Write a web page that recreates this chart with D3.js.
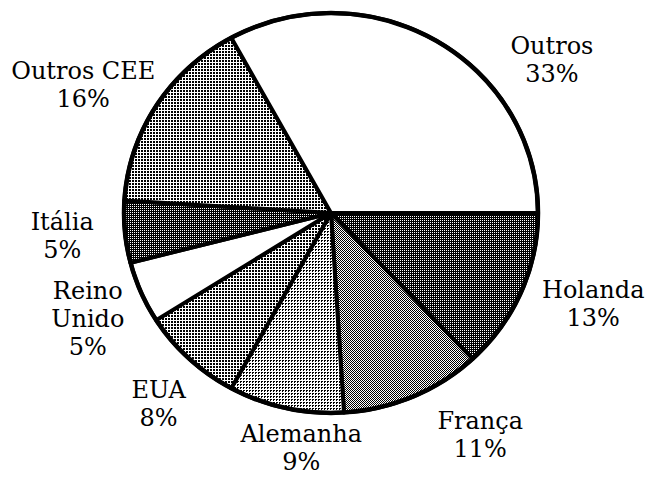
<!DOCTYPE html>
<html>
<head>
<meta charset="utf-8">
<script src="https://cdn.jsdelivr.net/npm/d3@7"></script>
<style>
  html, body { margin: 0; padding: 0; background: #fff; }
  svg { display: block; }
  text { font-family: "DejaVu Serif", serif; font-size: 24px; fill: #000; }
</style>
</head>
<body>
<script>
// Data (clockwise from 3 o'clock)
const categories = ["Holanda", "França", "Alemanha", "EUA", "Reino Unido", "Itália", "Outros CEE", "Outros"];
const shares = [13, 11, 9, 8, 5, 5, 16, 33];
const labelLines = [["Holanda"], ["França"], ["Alemanha"], ["EUA"], ["Reino", "Unido"], ["Itália"], ["Outros CEE"], ["Outros"]];

// fill texture per slice
const textures = ["dark", "mid", "light", "dots", "white", "dark", "dots", "white"];
// small nudges from the label arc position
const labelNudge = [[19, -15], [44, -22], [28, -24], [9, -3], [0, 0], [-5, -2], [-24, 13], [86, 75]];

const width = 649, height = 478;
const cx = 331, cy = 213, rx = 207, ry = 200, labelR = 265;
const lineH = 28;

const svg = d3.select("body").append("svg")
    .attr("width", width)
    .attr("height", height);

// halftone-ish pixel patterns
const defs = svg.append("defs");
const patternSpecs = {
    dark:  { size: 2, bg: "#000", fg: "#fff", cells: [[0, 0]] },
    mid:   { size: 2, bg: "#fff", fg: "#000", cells: [[0, 0], [1, 1]] },
    dots:  { size: 3, bg: "#fff", fg: "#000", cells: [[0, 0], [1, 0], [0, 1], [1, 1]] },
    light: { size: 3, bg: "#fff", fg: "#000", cells: [[0, 0], [1, 0], [0, 1]] }
};
Object.entries(patternSpecs).forEach(([id, p]) => {
    const pat = defs.append("pattern")
        .attr("id", "tex-" + id)
        .attr("patternUnits", "userSpaceOnUse")
        .attr("width", p.size)
        .attr("height", p.size);
    pat.append("rect").attr("width", p.size).attr("height", p.size)
        .attr("fill", p.bg).attr("shape-rendering", "crispEdges");
    p.cells.forEach(c => {
        pat.append("rect").attr("x", c[0]).attr("y", c[1]).attr("width", 1).attr("height", 1)
            .attr("fill", p.fg).attr("shape-rendering", "crispEdges");
    });
});

const fillFor = t => t === "white" ? "#fff" : `url(#tex-${t})`;

const pie = d3.pie()
    .sort(null)
    .startAngle(Math.PI / 2)
    .endAngle(Math.PI / 2 + 2 * Math.PI);
const arcs = pie(shares);

// point on the (slightly flattened) pie outline
const pt = (a, r1, r2) => [cx + r1 * Math.sin(a), cy - r2 * Math.cos(a)];

function slicePath(d) {
    const [x0, y0] = pt(d.startAngle, rx, ry);
    const [x1, y1] = pt(d.endAngle, rx, ry);
    const large = d.endAngle - d.startAngle > Math.PI ? 1 : 0;
    return `M${cx},${cy}L${x0},${y0}A${rx},${ry} 0 ${large} 1 ${x1},${y1}Z`;
}

svg.append("g")
    .selectAll("path")
    .data(arcs)
    .join("path")
    .attr("d", slicePath)
    .attr("fill", (d, i) => fillFor(textures[i]))
    .attr("stroke", "#000")
    .attr("stroke-width", 4)
    .attr("stroke-linejoin", "round");

svg.append("ellipse")
    .attr("cx", cx).attr("cy", cy)
    .attr("rx", rx).attr("ry", ry)
    .attr("fill", "none")
    .attr("stroke", "#000")
    .attr("stroke-width", 4.5);

// labels
const labels = svg.append("g").attr("text-anchor", "middle");
arcs.forEach((d, i) => {
    const mid = (d.startAngle + d.endAngle) / 2;
    const [lx, ly] = pt(mid, labelR, labelR);
    const x = lx + labelNudge[i][0];
    const yc = ly + labelNudge[i][1];
    const lines = labelLines[i].concat([shares[i] + "%"]);
    const y0 = yc - (lines.length - 1) * lineH / 2 + 8.5;
    const t = labels.append("text").attr("x", x).attr("y", y0);
    lines.forEach((s, k) => {
        t.append("tspan").attr("x", x).attr("dy", k === 0 ? 0 : lineH).text(s);
    });
});
</script>
</body>
</html>
